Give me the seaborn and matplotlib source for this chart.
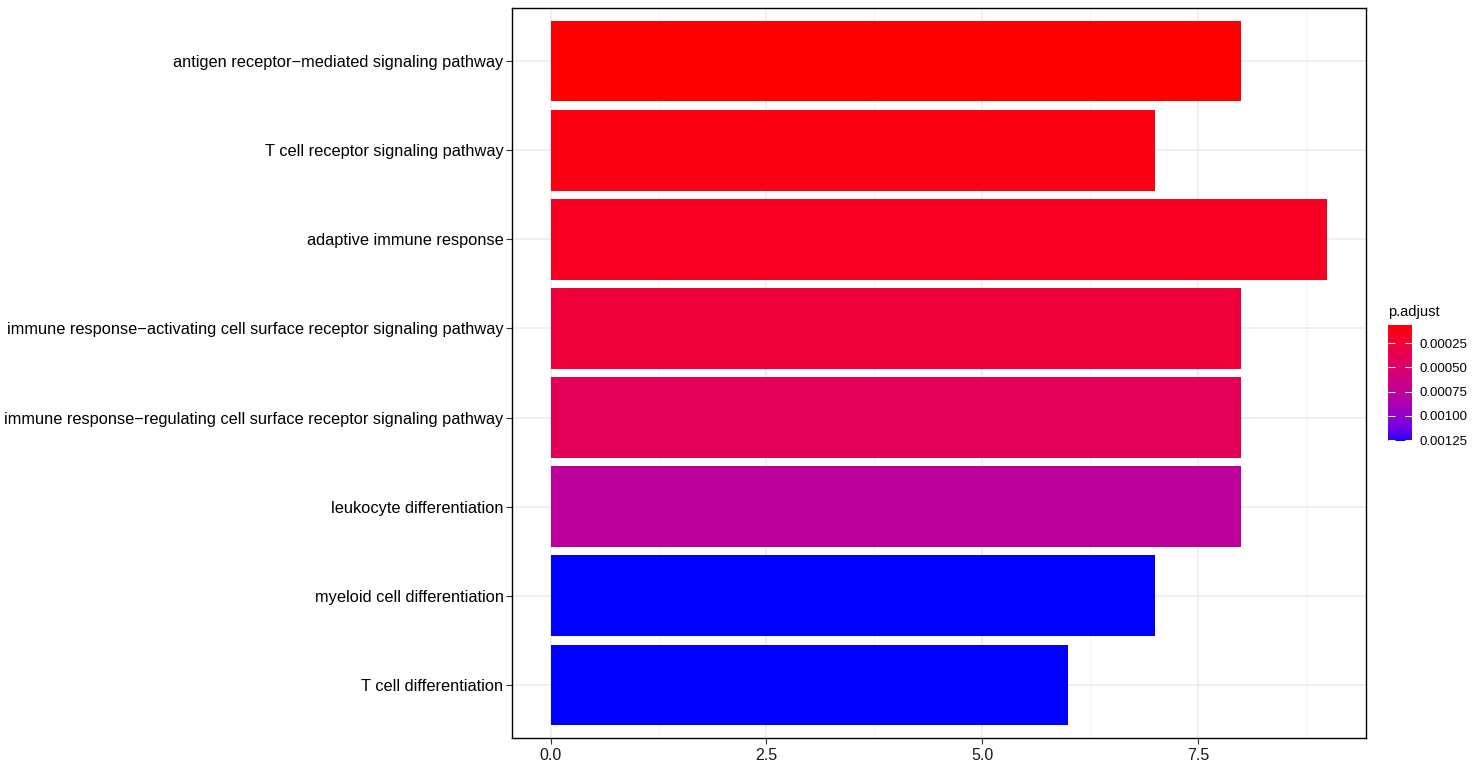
import numpy as np
import pandas as pd
import matplotlib
matplotlib.use('Agg')
import matplotlib.pyplot as plt
from matplotlib.colors import ListedColormap, Normalize
from matplotlib.cm import ScalarMappable
import seaborn as sns

# GO terms, top to bottom
descriptions = [
    'antigen receptor\u2212mediated signaling pathway',
    'T cell receptor signaling pathway',
    'adaptive immune response',
    'immune response\u2212activating cell surface receptor signaling pathway',
    'immune response\u2212regulating cell surface receptor signaling pathway',
    'leukocyte differentiation',
    'myeloid cell differentiation',
    'T cell differentiation',
]
counts = [8, 7, 9, 8, 8, 8, 7, 6]
p_adjust = [0.000062, 0.000108, 0.000156, 0.00026, 0.0004, 0.00076, 0.00126, 0.00126]

df = pd.DataFrame({'Description': descriptions, 'Count': counts, 'p.adjust': p_adjust})


# red -> blue gradient interpolated in Lab space (like ggplot)
def srgb_to_lab(rgb):
    c = np.asarray(rgb, float)
    lin = np.where(c <= 0.04045, c / 12.92, ((c + 0.055) / 1.055) ** 2.4)
    M = np.array([[0.4124, 0.3576, 0.1805], [0.2126, 0.7152, 0.0722], [0.0193, 0.1192, 0.9505]])
    xyz = M @ lin / np.array([0.95047, 1.0, 1.08883])
    d = 6 / 29
    f = np.where(xyz > d ** 3, np.cbrt(xyz), xyz / (3 * d * d) + 4 / 29)
    return np.array([116 * f[1] - 16, 500 * (f[0] - f[1]), 200 * (f[1] - f[2])])


def lab_to_srgb(lab):
    L, a, b = lab
    fy = (L + 16) / 116
    f = np.array([fy + a / 500, fy, fy - b / 200])
    d = 6 / 29
    xyz = np.where(f > d, f ** 3, 3 * d * d * (f - 4 / 29)) * np.array([0.95047, 1.0, 1.08883])
    Minv = np.array([[3.2406, -1.5372, -0.4986], [-0.9689, 1.8758, 0.0415], [0.0557, -0.2040, 1.0570]])
    lin = np.clip(Minv @ xyz, 0, 1)
    return np.where(lin <= 0.0031308, 12.92 * lin, 1.055 * lin ** (1 / 2.4) - 0.055).clip(0, 1)


lab_lo, lab_hi = srgb_to_lab([1, 0, 0]), srgb_to_lab([0, 0, 1])
cmap = ListedColormap([lab_to_srgb(lab_lo + t * (lab_hi - lab_lo)) for t in np.linspace(0, 1, 256)])
norm = Normalize(vmin=min(p_adjust), vmax=max(p_adjust))
bar_colors = [cmap(norm(p)) for p in p_adjust]

plt.rcParams['font.family'] = ['Liberation Sans', 'DejaVu Sans']
fig = plt.figure(figsize=(14.83, 7.62), dpi=100)
ax = fig.add_axes([0.3452, 0.0315, 0.5759, 0.958])

sns.barplot(data=df, x='Count', y='Description', hue='Description', palette=bar_colors,
            legend=False, width=0.9, saturation=1, linewidth=0, ax=ax, zorder=2)

ax.set_xlim(-0.45, 9.45)
ax.set_ylim(len(descriptions) - 0.4, -0.6)
ax.set_xticks([0, 2.5, 5, 7.5])
ax.set_xticklabels(['0.0', '2.5', '5.0', '7.5'])
ax.set_xticks([1.25, 3.75, 6.25, 8.75], minor=True)
ax.set_xlabel('')
ax.set_ylabel('')
ax.set_axisbelow(True)
ax.grid(True, which='major', color='#EBEBEB', linewidth=1.1)
ax.grid(True, which='minor', axis='x', color='#F2F2F2', linewidth=0.6)
ax.tick_params(axis='y', which='major', length=4, width=0.8, color='#333333', labelsize=11.75,
               labelcolor='black', pad=2)
ax.tick_params(axis='x', which='major', length=4, width=0.8, color='#333333', labelsize=11.5,
               labelcolor='#1a1a1a', pad=3)
ax.tick_params(axis='x', which='minor', length=0)
for s in ax.spines.values():
    s.set_color('black')
    s.set_linewidth(1.0)

# colour bar legend
cax = fig.add_axes([0.936, 0.4213, 0.0162, 0.1522])
sm = ScalarMappable(norm=norm, cmap=cmap)
cb = fig.colorbar(sm, cax=cax)
cb.outline.set_visible(False)
cax.set_ylim(max(p_adjust), min(p_adjust))
ticks = [0.00025, 0.0005, 0.00075, 0.001, 0.00125]
cb.set_ticks(ticks)
cb.set_ticklabels(['0.00025', '0.00050', '0.00075', '0.00100', '0.00125'])
cax.tick_params(which='both', direction='in', left=True, right=True, length=5, width=0.8,
                color='white', labelsize=9.5, labelcolor='black', pad=5)
cax.tick_params(which='minor', length=0)
fig.text(0.936, 0.5735 + 0.008, 'p.adjust', ha='left', va='bottom', fontsize=10.5)

fig.savefig('out.png', dpi=100)
